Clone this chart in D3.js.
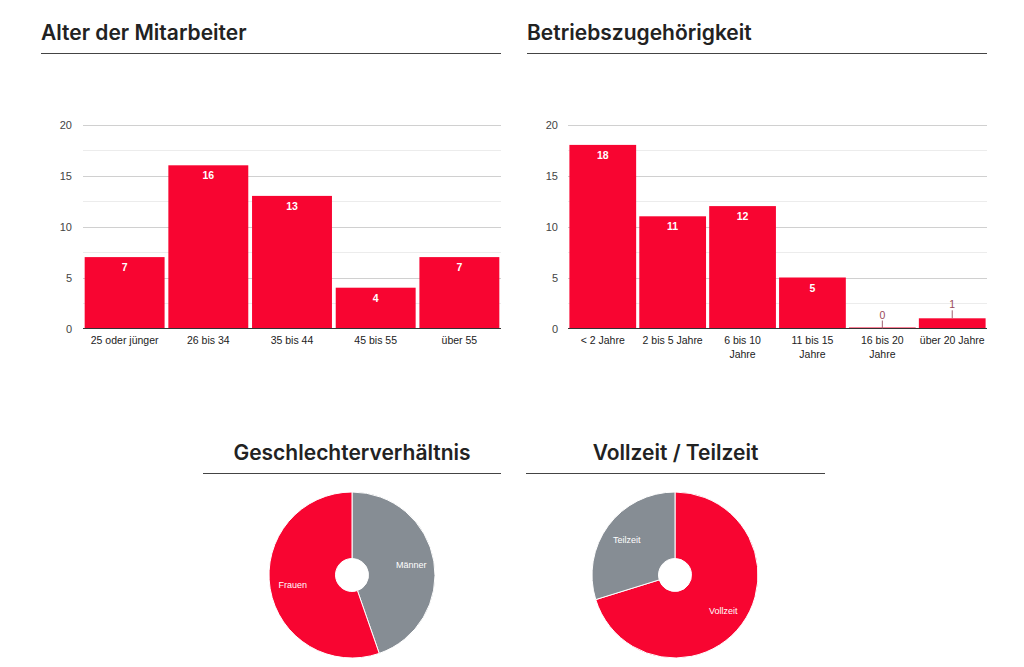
<!DOCTYPE html>
<html><head><meta charset="utf-8">
<script src="https://cdn.jsdelivr.net/npm/d3@7"></script>
<style>
body{margin:0;background:#fff;}
svg{display:block;}
</style></head>
<body>
<svg id="c" width="1024" height="667"></svg>
<script>
const ageCategories = ["25 oder jünger","26 bis 34","35 bis 44","45 bis 55","über 55"];
const ageValues = [7,16,13,4,7];
const tenureCategories = [["< 2 Jahre"],["2 bis 5 Jahre"],["6 bis 10","Jahre"],["11 bis 15","Jahre"],["16 bis 20","Jahre"],["über 20 Jahre"]];
const tenureValues = [18,11,12,5,0,1];
const yTicks = [0,5,10,15,20];
const genderLabels = ["Männer","Frauen"];
const genderValues = [21,26];
const workLabels = ["Vollzeit","Teilzeit"];
const workValues = [33,14];

const RED = "#f80531", GRAY = "#868d94";
const svg = d3.select("#c");
const titleFont = "Inter, 'Open Sans', sans-serif";
const axisFont = "Arial, 'Liberation Sans', sans-serif";

function title(text, x1, x2, y, lineY, anchor){
  svg.append("text").attr("x", anchor==="middle"?(x1+x2)/2:x1).attr("y", y)
    .attr("text-anchor", anchor).attr("font-family", titleFont).attr("font-weight", 600)
    .attr("font-size", 21).attr("fill", "#222").text(text);
  svg.append("line").attr("x1", x1).attr("x2", x2).attr("y1", lineY).attr("y2", lineY)
    .attr("stroke", "#444").attr("stroke-width", 1);
}

function barChart(cats, vals, x0, x1, labelX){
  const g = svg.append("g");
  const y = d3.scaleLinear().domain([0,20]).range([328.5,124.5]);
  const x = d3.scaleBand().domain(d3.range(cats.length)).range([x0,x1]).paddingInner(0.045).paddingOuter(0.02);
  g.selectAll(".minor").data(d3.range(2.5,20,5)).join("line")
    .attr("x1", x0).attr("x2", x1).attr("y1", d=>Math.round(y(d))+0.5).attr("y2", d=>Math.round(y(d))+0.5)
    .attr("stroke", "#ececec");
  g.selectAll(".major").data(yTicks.slice(1)).join("line")
    .attr("x1", x0).attr("x2", x1).attr("y1", d=>Math.round(y(d))+0.5).attr("y2", d=>Math.round(y(d))+0.5)
    .attr("stroke", "#d0d0d0");
  g.selectAll(".yt").data(yTicks).join("text")
    .attr("x", labelX).attr("y", d=>y(d)+4).attr("text-anchor","end")
    .attr("font-family", axisFont).attr("font-size", 11).attr("fill", "#444").text(d=>d);
  g.selectAll(".bar").data(vals).join("rect")
    .attr("x", (d,i)=>x(i)).attr("width", x.bandwidth())
    .attr("y", d=>d===0? y(0)-1 : y(d)).attr("height", d=>d===0?1:y(0)-y(d))
    .attr("fill", RED);
  g.append("line").attr("x1", x0).attr("x2", x1).attr("y1", y(0)).attr("y2", y(0))
    .attr("stroke", "#333").attr("stroke-width", 1);
  vals.forEach((v,i)=>{
    const cx = x(i)+x.bandwidth()/2;
    if (y(0)-y(v) > 18){
      g.append("text").attr("x", cx).attr("y", y(v)+14).attr("text-anchor","middle")
        .attr("font-family", axisFont).attr("font-weight", 700).attr("font-size", 10.5)
        .attr("fill","#fff").text(v);
    } else {
      g.append("line").attr("x1", cx).attr("x2", cx).attr("y1", y(v)).attr("y2", y(v)-8)
        .attr("stroke", "#a06070").attr("stroke-width", 1);
      g.append("text").attr("x", cx).attr("y", y(v)-10).attr("text-anchor","middle")
        .attr("font-family", axisFont).attr("font-size", 10.5)
        .attr("fill","#9a4a58").text(v);
    }
    const lines = Array.isArray(cats[i]) ? cats[i] : [cats[i]];
    lines.forEach((ln,k)=>{
      g.append("text").attr("x", cx).attr("y", 344 + k*13.5).attr("text-anchor","middle")
        .attr("font-family", axisFont).attr("font-size", 10.5).attr("fill","#222").text(ln);
    });
  });
}

function pie(labels, vals, colors, cx, cy){
  const g = svg.append("g").attr("transform", `translate(${cx},${cy})`);
  const arcs = d3.pie().sort(null).value(d=>d)(vals);
  const arc = d3.arc().innerRadius(16.5).outerRadius(83);
  g.selectAll("path").data(arcs).join("path").attr("d", arc)
    .attr("fill", (d,i)=>colors[i]).attr("stroke","#fff").attr("stroke-width",1);
  const la = d3.arc().innerRadius(60).outerRadius(60);
  g.selectAll(".lab").data(arcs).join("text")
    .attr("transform", d=>`translate(${la.centroid(d)})`)
    .attr("text-anchor","middle").attr("dy","0.35em")
    .attr("font-family", axisFont).attr("font-size", 9).attr("fill","#fff")
    .text((d,i)=>labels[i]);
}

title("Alter der Mitarbeiter", 41, 501, 40, 53.5, "start");
title("Betriebszugehörigkeit", 527, 987, 40, 53.5, "start");
barChart(ageCategories, ageValues, 83, 501, 72);
barChart(tenureCategories, tenureValues, 568, 987, 558);

title("Geschlechterverhältnis", 203, 501, 460, 473.5, "middle");
title("Vollzeit / Teilzeit", 526, 825, 460, 473.5, "middle");
pie(genderLabels, genderValues, [GRAY, RED], 352, 575);
pie(workLabels, workValues, [RED, GRAY], 675, 575);
</script>
</body></html>
